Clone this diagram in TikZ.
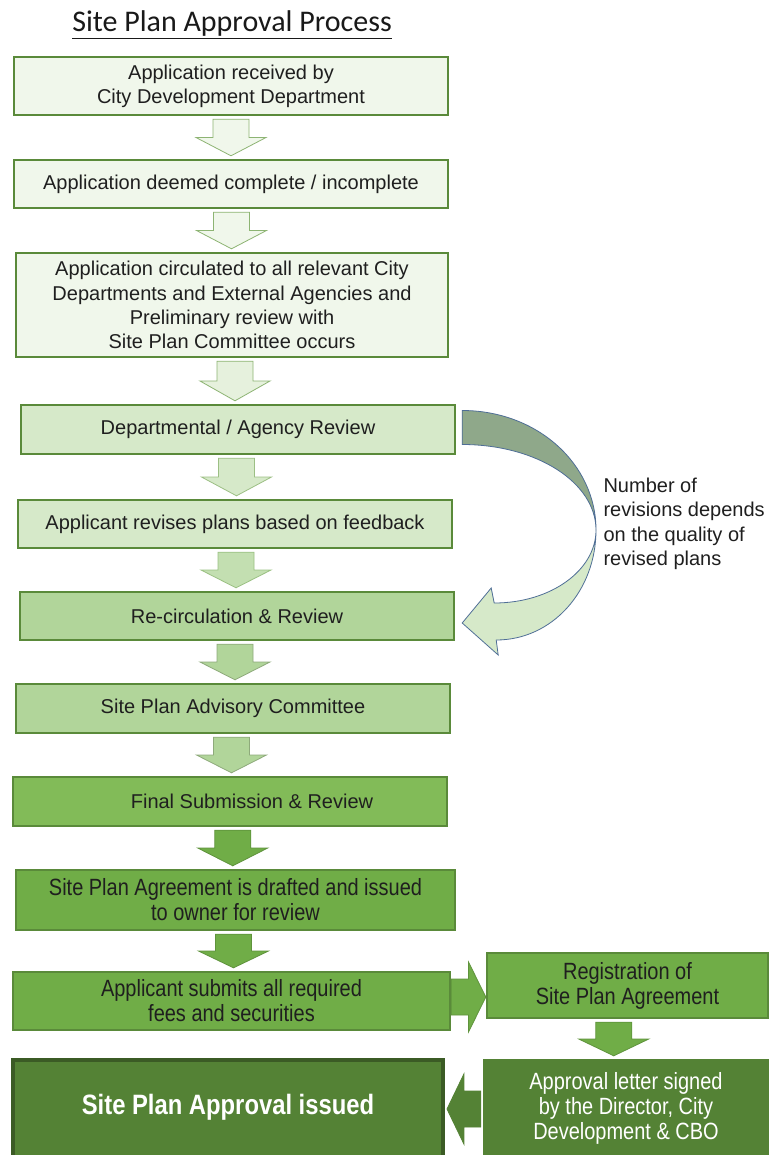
\documentclass[tikz,border=0pt]{standalone}
\usepackage{fontspec}
\setmainfont{Liberation Sans}
\newfontfamily\titlefont{Carlito}
\newfontfamily\narrowfont{Liberation Sans}[FakeStretch=0.85]
\usetikzlibrary{calc}

\definecolor{paleGreen}{HTML}{F0F7EB}
\definecolor{lightGreen}{HTML}{D6E9C9}
\definecolor{midGreen}{HTML}{B1D59A}
\definecolor{brightGreen}{HTML}{82BB58}
\definecolor{baseGreen}{HTML}{70AD47}
\definecolor{darkGreen}{HTML}{548235}
\definecolor{boxLine}{HTML}{5A8A3A}
\definecolor{arrowLine}{HTML}{8DB473}
\definecolor{loopBack}{HTML}{8FA88A}
\definecolor{loopLine}{HTML}{4F6E96}

\providecommand{\shaftHalf}{18pt}
\providecommand{\headHalf}{35pt}

% block arrow from #1 to #2, head starts half way
\newcommand{\blkarrow}[3]{%
  \coordinate (bh) at ($(#1)!.5!(#2)$);
  \draw[#3] ($(#1)!\shaftHalf!90:(#2)$) -- ($(bh)!\shaftHalf!90:(#2)$) -- ($(bh)!\headHalf!90:(#2)$)
    -- (#2) -- ($(bh)!\headHalf!-90:(#2)$) -- ($(bh)!\shaftHalf!-90:(#2)$) -- ($(#1)!\shaftHalf!-90:(#2)$) -- cycle;
}
% block arrow down between two boxes
\newcommand{\blkdown}[4][0]{%
  \coordinate (bm) at ($(#2.south)!.5!(#3.north)+(#1,0)$);
  \coordinate (bs) at ($(bm |- #2.south)+(0,3)$);
  \coordinate (be) at ($(bm |- #3.north)+(0,-3)$);
  \blkarrow{bs}{be}{#4}
}

\begin{document}
\begin{tikzpicture}[x=1pt, y=-1pt,
  stepbox/.style={draw=boxLine, line width=2.4pt, inner sep=0pt, align=center, text=black!88,
    font=\fontsize{20}{24.3}\selectfont, minimum width=434pt},
  narrowbox/.style={stepbox, font=\narrowfont\fontsize{23.5}{25}\selectfont},
  blk/.style={line width=0.8pt, line join=miter}]
\useasboundingbox[fill=white] (0,0) rectangle (770,1155);

% Title
\node[font=\titlefont\fontsize{30}{36}\selectfont, text=black!90] (title) at (232,25) {\underline{Site Plan Approval Process}};

% Steps
\node[stepbox, fill=paleGreen, minimum height=58pt] (recv) at (231,86) {Application received by\\City Development Department};
\node[stepbox, fill=paleGreen, minimum height=48pt] (deem) at (231,184) {Application deemed complete / incomplete};
\node[stepbox, fill=paleGreen, minimum width=432pt, minimum height=104pt] (circ) at (232,305)
  {Application circulated to all relevant City\\Departments and External Agencies and\\Preliminary review with\\Site Plan Committee occurs};
\node[stepbox, fill=lightGreen, minimum height=49pt] (dept) at (238,429.5) {Departmental / Agency Review};
\node[stepbox, fill=lightGreen, minimum height=48pt] (revise) at (235,524) {Applicant revises plans based on feedback};
\node[stepbox, fill=midGreen, minimum height=48pt] (recirc) at (237,616) {Re-circulation \& Review};
\node[stepbox, fill=midGreen, minimum height=49pt] (spac) at (233,708.5) {Site Plan Advisory Committee};
\node[stepbox, fill=brightGreen, minimum height=49pt] (final) at (230,801.5) {\hspace*{44pt}Final Submission \& Review};
\node[narrowbox, fill=baseGreen, minimum width=439pt, minimum height=60pt] (draft) at (235.5,900)
  {Site Plan Agreement is drafted and issued\\to owner for review};
\node[narrowbox, fill=baseGreen, minimum width=437pt, minimum height=58pt] (fees) at (231.5,1001)
  {Applicant submits all required\\fees and securities};
\node[narrowbox, fill=baseGreen, minimum width=281pt, minimum height=65pt] (regist) at (627.5,985.5)
  {Registration of\\Site Plan Agreement};
\node[narrowbox, draw=darkGreen, fill=darkGreen, text=white, minimum width=284pt, minimum height=96pt] (letter) at (626,1108)
  {Approval letter signed\\by the Director, City\\Development \& CBO};
\node[stepbox, draw=darkGreen!70!black, line width=4pt, fill=darkGreen, text=white, minimum width=430pt, minimum height=110pt,
  font=\narrowfont\bfseries\fontsize{28}{32}\selectfont] (issued) at (228,1115) {Site Plan Approval issued\rule[-22pt]{0pt}{0pt}};

% Down arrows
\blkdown{recv}{deem}{blk, fill=paleGreen, draw=arrowLine}
\blkdown{deem}{circ}{blk, fill=paleGreen, draw=arrowLine}
\blkdown{circ}{dept}{blk, fill=paleGreen!60!lightGreen, draw=arrowLine}
\blkdown{dept}{revise}{blk, fill=lightGreen, draw=arrowLine!80!lightGreen}
\blkdown{revise}{recirc}{blk, fill=lightGreen!50!midGreen, draw=arrowLine!60!midGreen}
\blkdown{recirc}{spac}{blk, fill=midGreen, draw=midGreen!80!black}
\blkdown{spac}{final}{blk, fill=midGreen, draw=midGreen!80!black}
\blkdown{final}{draft}{blk, fill=baseGreen, draw=baseGreen!85!black}
\blkdown{draft}{fees}{blk, fill=baseGreen, draw=baseGreen!85!black}
\blkdown[-13]{regist}{letter}{blk, fill=baseGreen, draw=baseGreen!85!black}

% Side arrows
\coordinate (ra) at ($(fees.east)+(0,-4)$);
\coordinate (rb) at (ra -| regist.west);
\blkarrow{ra}{rb}{blk, fill=baseGreen, draw=baseGreen!85!black}
\coordinate (la) at ($(letter.west)+(-2,1)$);
\coordinate (lb) at ($(la -| issued.east)+(2,0)$);
\blkarrow{la}{lb}{blk, fill=darkGreen, draw=darkGreen}

% Revision loop
\coordinate (loopR) at (596,530);
\draw[draw=loopLine, line width=0.8pt, fill=loopBack]
  ($(dept.east)+(6,-19)$) .. controls ($(dept.east)+(81,-19)$) and ($(loopR)+(0,-66)$) .. (loopR)
  .. controls ($(loopR)+(0,-47)$) and ($(dept.east)+(81,15)$) .. ($(dept.east)+(6,15)$) -- cycle;
\draw[draw=loopLine, line width=0.8pt, fill=lightGreen, line join=miter]
  (loopR) .. controls ($(loopR)+(0,61)$) and ($(recirc.east)+(97,24)$) .. ($(recirc.east)+(41,24)$)
  -- ($(recirc.east)+(43,39)$) -- ($(recirc.east)+(7,7)$) -- ($(recirc.east)+(36,-28)$) -- ($(recirc.east)+(39,-13)$)
  .. controls ($(recirc.east)+(96,-13)$) and ($(loopR)+(0,40)$) .. (loopR) -- cycle;
\node[align=left, anchor=west, text=black!88, font=\fontsize{20}{24.5}\selectfont] (note) at (600,524)
  {Number of\\revisions depends\\on the quality of\\revised plans};
\end{tikzpicture}
\end{document}
